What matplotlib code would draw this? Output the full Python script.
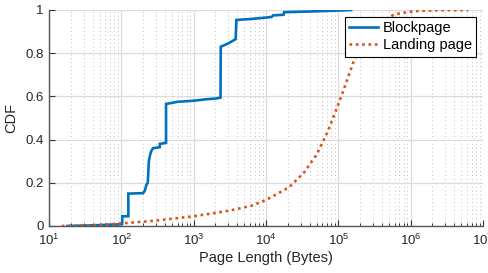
import matplotlib
matplotlib.use("Agg")
import matplotlib.pyplot as plt
from matplotlib.ticker import LogLocator, FixedLocator, NullFormatter

plt.rcParams['font.family'] = ['Liberation Sans', 'DejaVu Sans']
plt.rcParams['mathtext.fontset'] = 'custom'
plt.rcParams['mathtext.rm'] = 'Liberation Sans'

# Blockpage CDF (page length in bytes, cumulative fraction)
block_x = [18, 50, 100, 103, 103, 125, 125, 200, 212, 222, 232, 240, 250, 262, 275,
           340, 340, 415, 415, 600, 1000, 1500, 2000, 2350, 2370, 3000, 3800,
           3900, 6000, 10000, 12000, 12500, 17500, 17800, 40000, 90000, 150000]
block_y = [0.0, 0.004, 0.008, 0.01, 0.045, 0.045, 0.15, 0.152, 0.165, 0.19, 0.2, 0.3,
           0.33, 0.35, 0.36, 0.365, 0.38, 0.385, 0.565, 0.575, 0.58, 0.587, 0.59, 0.594,
           0.83, 0.845, 0.865, 0.954, 0.958, 0.965, 0.968, 0.975, 0.978, 0.99, 0.993,
           0.997, 1.0]

# Landing page CDF
land_x = [15, 30, 60, 100, 300, 1000, 3000, 6200, 10000, 21000, 34000, 50000, 71000,
          110000, 166000, 263000, 400000, 600000, 1150000, 2500000, 6300000]
land_y = [0.0, 0.002, 0.006, 0.012, 0.025, 0.045, 0.07, 0.093, 0.12, 0.18, 0.25, 0.33,
          0.435, 0.6, 0.77, 0.89, 0.95, 0.98, 0.995, 0.999, 1.0]

series_labels = ["Blockpage", "Landing page"]
y_ticks = [0, 0.2, 0.4, 0.6, 0.8, 1.0]
y_tick_labels = ["0", "0.2", "0.4", "0.6", "0.8", "1"]
x_ticks = [1e1, 1e2, 1e3, 1e4, 1e5, 1e6, 1e7]
x_tick_labels = [r"$10^{1}$", r"$10^{2}$", r"$10^{3}$", r"$10^{4}$", r"$10^{5}$",
                 r"$10^{6}$", r"$10^{7}$"]

fig = plt.figure(figsize=(4.89, 2.73), dpi=100)
ax = fig.add_axes([49 / 489, 1 - 226 / 273, 434 / 489, 216 / 273])

ax.plot(block_x, block_y, color="#0072BD", lw=1.9, label=series_labels[0],
        solid_joinstyle='miter', zorder=3)
ax.plot(land_x, land_y, color="#D95319", lw=1.9, linestyle=(0, (1, 1.4)),
        dash_capstyle='butt', label=series_labels[1], zorder=3)

ax.set_xscale('log')
ax.set_xlim(1e1, 1e7)
ax.set_ylim(0, 1)
ax.xaxis.set_major_locator(FixedLocator(x_ticks))
ax.set_xticklabels(x_tick_labels)
ax.xaxis.set_minor_locator(LogLocator(base=10, subs=range(2, 10), numticks=20))
ax.xaxis.set_minor_formatter(NullFormatter())
ax.set_yticks(y_ticks)
ax.set_yticklabels(y_tick_labels)

ax.grid(True, which='major', color='#dcdcdc', lw=0.9, linestyle='-', zorder=0)
ax.grid(True, which='minor', axis='x', color='#bdbdbd', lw=0.7,
        linestyle=(0, (1, 3)), zorder=0)
ax.set_axisbelow(True)

for s in ['top', 'right']:
    ax.spines[s].set_visible(False)
for s in ['left', 'bottom']:
    ax.spines[s].set_color('#555555')
    ax.spines[s].set_linewidth(1.0)

ax.tick_params(which='major', direction='in', length=4, width=0.8, color='#333333',
               labelsize=9.5, labelcolor='#262626', pad=4)
ax.tick_params(which='minor', direction='in', length=2.5, width=0.7, color='#333333')
ax.tick_params(axis='x', which='major', pad=5)

ax.set_xlabel("Page Length (Bytes)", fontsize=10.5, color='#262626', labelpad=2)
ax.set_ylabel("CDF", fontsize=10.5, color='#262626', labelpad=5)

leg = ax.legend(loc='upper right', bbox_to_anchor=(0.984, 0.968), borderaxespad=0,
                fontsize=10.5, fancybox=False, framealpha=1, edgecolor='black',
                handlelength=2.0, handletextpad=0.3, borderpad=0.3, labelspacing=0.2)
leg.get_frame().set_linewidth(0.8)

fig.savefig("out.png", dpi=100)
